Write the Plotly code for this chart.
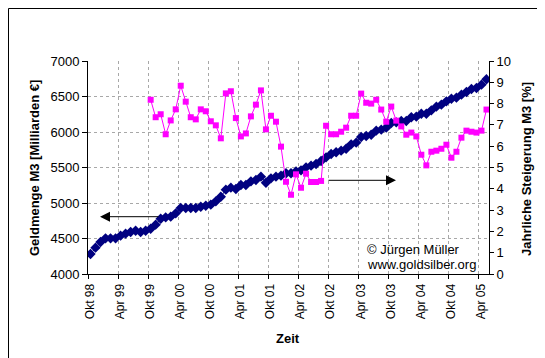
import plotly.graph_objects as go

# ---- data ----
month_names = ["Jan", "Feb", "Mär", "Apr", "Mai", "Jun", "Jul", "Aug", "Sep", "Okt", "Nov", "Dez"]
months = []
y, m = 1998, 9
for _ in range(80):
    months.append(f"{month_names[m]} {y % 100:02d}")
    m += 1
    if m == 12:
        m, y = 0, y + 1

m3_volume = [4282, 4371, 4451, 4502, 4502, 4502, 4540, 4568, 4592, 4610,
             4592, 4610, 4638, 4695, 4779, 4798, 4808, 4854, 4930, 4930,
             4930, 4930, 4948, 4962, 4977, 5023, 5089, 5188, 5216, 5197,
             5254, 5254, 5305, 5324, 5371, 5286, 5347, 5371, 5385, 5418,
             5418, 5446, 5460, 5502, 5526, 5549, 5592, 5643, 5690, 5714,
             5737, 5765, 5826, 5850, 5930, 5944, 5962, 6019, 6033, 6061,
             6127, 6136, 6155, 6155, 6207, 6216, 6258, 6258, 6305, 6357,
             6385, 6432, 6469, 6484, 6526, 6564, 6606, 6620, 6667, 6742]

m3_growth = [None] * 12 + [
    8.18, 7.36, 7.50, 6.56, 7.21, 7.73, 8.84, 8.09, 7.36, 7.26,
    7.73, 7.64, 7.17, 6.98, 6.37, 8.48, 8.58, 7.32, 6.46, 6.60,
    7.40, 7.95, 8.62, 6.79, 7.43, 7.15, 5.98, 4.33, 3.72, 4.68,
    4.05, 4.71, 4.32, 4.32, 4.37, 6.96, 6.56, 6.56, 6.68, 6.87,
    7.43, 7.43, 8.47, 8.04, 8.00, 8.18, 7.72, 7.15, 7.86, 7.20,
    6.93, 6.54, 6.64, 6.46, 5.60, 5.10, 5.74, 5.79, 5.88, 6.07,
    5.46, 5.74, 6.40, 6.73, 6.68, 6.64, 6.73, 7.72]

tick_idx = list(range(0, 80, 6))
tick_labels = [months[i] for i in tick_idx]

# ---- layout geometry ----
W, H = 545, 358
L, R, T, B = 80, 64, 53, 92
pw, ph = W - L - R, H - T - B

FONT = "Liberation Sans, Arial, sans-serif"
x_pos = [i + 0.5 for i in range(len(months))]

fig = go.Figure()
fig.add_trace(go.Scatter(
    x=x_pos, y=m3_volume, mode="lines+markers", name="Geldmenge M3",
    line=dict(color="#000080", width=1),
    marker=dict(symbol="diamond", size=8, color="#000080"),
    yaxis="y"))
fig.add_trace(go.Scatter(
    x=x_pos, y=m3_growth, mode="lines+markers", name="Jährliche Steigerung",
    line=dict(color="#FF00FF", width=1),
    marker=dict(symbol="square", size=6, color="#FF00FF"),
    connectgaps=False, yaxis="y2"))

grid = dict(showgrid=True, gridcolor="#a8a8a8", griddash="3px,3px", gridwidth=1)

fig.update_layout(
    width=W, height=H,
    margin=dict(l=L, r=R, t=T, b=B, pad=0),
    paper_bgcolor="white", plot_bgcolor="white",
    showlegend=False,
    font=dict(family=FONT, size=13, color="black"),
    xaxis=dict(range=[0, 80], tickmode="array", tickvals=tick_idx, ticktext=tick_labels,
               tickangle=-90, tickfont=dict(size=12), ticks="outside", ticklen=4,
               tickcolor="black", showline=True, linecolor="black", linewidth=1,
               zeroline=False, ticklabelshift=2, **grid),
    yaxis=dict(range=[4000, 7000], dtick=500, ticks="outside", ticklen=5,
               tickcolor="black", showline=True, linecolor="black", linewidth=1,
               zeroline=False, tickfont=dict(size=13), **grid),
    yaxis2=dict(range=[0, 10], dtick=1, overlaying="y", side="right",
                ticks="outside", ticklen=4, tickcolor="black", showline=True,
                linecolor="black", linewidth=1, showgrid=False, zeroline=False,
                tickfont=dict(size=13)),
    yaxis3=dict(range=[0, 10], dtick=1, overlaying="y", side="right",
                ticks="inside", ticklen=4, tickcolor="black", showline=False,
                showticklabels=False, showgrid=False, zeroline=False),
)

def px_to_paper_x(px):
    return (px - L) / pw

def px_to_paper_y(py):
    return (H - B - py) / ph

annotations = [
    # axis titles
    dict(text="<b>Geldmenge M3 [Milliarden €]</b>", x=px_to_paper_x(26), y=px_to_paper_y(160),
         textangle=-90, font=dict(size=13)),
    dict(text="<b>Jahrliche Steigerung M3 [%]</b>", x=px_to_paper_x(518), y=px_to_paper_y(161),
         textangle=-90, font=dict(size=13)),
    dict(text="<b>Zeit</b>", x=px_to_paper_x(280), y=px_to_paper_y(330), font=dict(size=13)),
    # copyright
    dict(text="© Jürgen Müller", x=px_to_paper_x(357), y=px_to_paper_y(241),
         xanchor="left", font=dict(size=13)),
    dict(text="www.goldsilber.org", x=px_to_paper_x(357), y=px_to_paper_y(256),
         xanchor="left", font=dict(size=13)),
]
for a in annotations:
    a.setdefault("xanchor", "center")
    a.update(xref="paper", yref="paper", yanchor="middle", showarrow=False)

# arrows pointing at the matching axis
arrows = [
    dict(x=px_to_paper_x(92), y=px_to_paper_y(208.7), ax=152 - 92, ay=0),
    dict(x=px_to_paper_x(388), y=px_to_paper_y(172.3), ax=319 - 388, ay=0),
]
for a in arrows:
    a.update(xref="paper", yref="paper", showarrow=True, arrowhead=2, arrowsize=2,
             arrowwidth=1, arrowcolor="black", standoff=0, startstandoff=0, text="")
    annotations.append(a)

fig.update_layout(annotations=annotations)

# outer frame of the chart area
fig.add_shape(type="rect", xref="paper", yref="paper",
              x0=px_to_paper_x(0.5), x1=px_to_paper_x(W - 0.5),
              y0=px_to_paper_y(H - 0.5), y1=px_to_paper_y(0.5),
              line=dict(color="black", width=1), fillcolor="rgba(0,0,0,0)", layer="above")

fig.write_html("out.html")
